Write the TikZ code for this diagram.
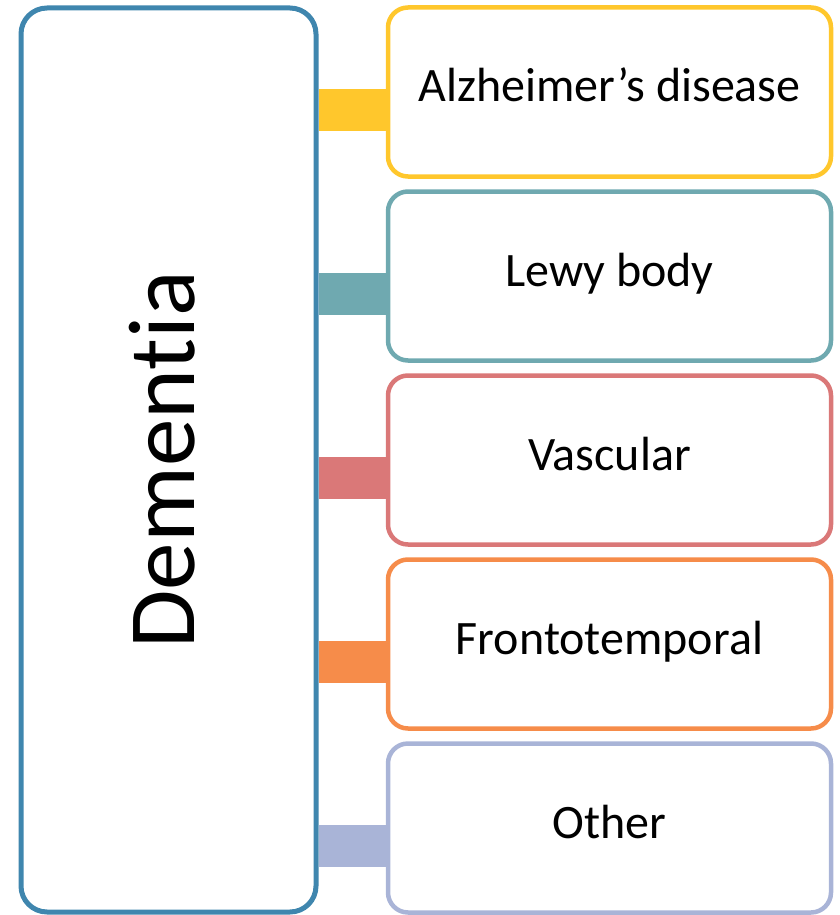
\documentclass[tikz,border=0pt]{standalone}
\usepackage{fontspec}
\setmainfont{Carlito}[RawFeature=-liga]
\usepackage{graphicx}

\definecolor{mainblue}{HTML}{3F86AE}
\definecolor{alzyellow}{HTML}{FFC72C}
\definecolor{lewyteal}{HTML}{6FA9B0}
\definecolor{vascred}{HTML}{DA7878}
\definecolor{frontorange}{HTML}{F68C4A}
\definecolor{otherlav}{HTML}{A9B4D7}

\begin{document}
\begin{tikzpicture}[x=1pt,y=-1pt,
  mainbox/.style={draw=mainblue,line width=5pt,rounded corners=26pt,
    minimum width=295pt,minimum height=904pt,inner sep=0pt},
  subbox/.style={draw=#1,line width=4.5pt,rounded corners=20pt,
    minimum width=443pt,minimum height=169pt,inner sep=0pt,
    text height=20pt,text depth=0pt,
    font=\fontsize{48}{56}\selectfont},
  bar/.style={draw=#1,line width=42pt}]
\useasboundingbox (0,0) rectangle (840,915);

\node[mainbox] (dementia) at (168.5,460)
  {\rotatebox{90}{\fontsize{95}{110}\selectfont Dementia\rule[-14pt]{0pt}{0pt}}};

% one box per type, with its bar to the main box
\foreach \name/\txt/\col [count=\i from 0] in
  {alz/Alzheimer’s disease/alzyellow,
   lewy/Lewy body/lewyteal,
   vasc/Vascular/vascred,
   fronto/Frontotemporal/frontorange,
   other/Other/otherlav}
{
  \node[subbox=\col] (\name) at (609.5,92+184*\i) {\txt};
  \coordinate (\name bar) at ([yshift=-18pt]\name.west);
  \draw[bar=\col] (\name bar) -- (\name bar -| dementia.east);
}
\end{tikzpicture}
\end{document}
